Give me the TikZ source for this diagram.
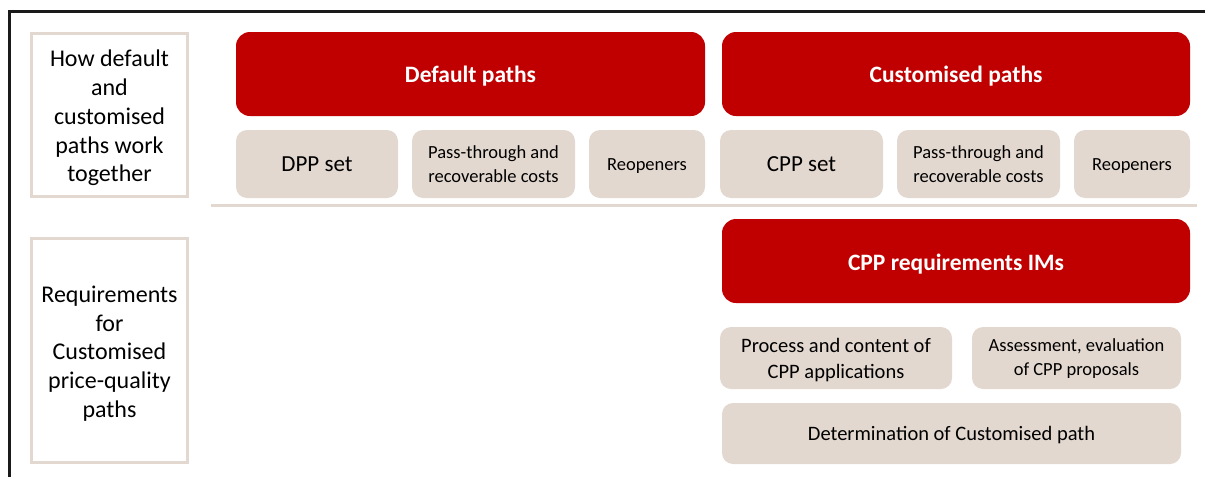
\documentclass[tikz,border=0pt]{standalone}
\usepackage{fontspec}
\setmainfont{Carlito}
\definecolor{dred}{HTML}{C00000}
\definecolor{beige}{HTML}{E3D8CF}
\definecolor{frm}{HTML}{1A1A1A}
\tikzset{
  redbox/.style={fill=dred, draw=none, rounded corners=14pt, inner sep=0pt},
  redtext/.style={text=white, font=\fontsize{23.5}{26}\selectfont\bfseries, inner sep=0pt},
  tanbox/.style={fill=beige, draw=none, rounded corners=11pt, inner sep=0pt},
  tantext/.style={text=black, align=center, inner sep=0pt},
  sidebox/.style={draw=beige, line width=3pt, fill=white, inner sep=0pt},
  sidetext/.style={align=center, inner sep=0pt, font=\fontsize{24}{28.8}\selectfont},
}
\newcommand{\bx}[8]{% name, box style, text style, x1, y1, x2, y2, text
  \node[#2, minimum width={#6-#4}, minimum height={#7-#5}] (#1) at ({(#4+#6)/2},{-(#5+#7)/2}) {};
  \node[#3] (#1t) at ([yshift=-2pt]#1.center) {#8};}
\begin{document}
\begin{tikzpicture}[x=1pt,y=1pt]
\useasboundingbox (0,0) rectangle (1205,-477);
\draw[frm, line width=3pt] (9.5,-477) -- (9.5,-11) -- (1205,-11);
% side boxes
\bx{s1}{sidebox}{sidetext, yshift=-1pt}{31.5}{33.5}{187.5}{196.5}{How default\\and\\customised\\paths work\\together}
\bx{s2}{sidebox}{sidetext, yshift=-1pt}{31.5}{238.5}{187.5}{462.5}{Requirements\\for\\Customised\\price-quality\\paths}
% separator
\draw[beige, line width=3pt] (211,-205) -- (1197,-205);
% red headers
\bx{dp}{redbox}{redtext}{236}{32}{705}{116}{Default paths}
\bx{cp}{redbox}{redtext}{722}{32}{1190}{116}{Customised paths}
\bx{cr}{redbox}{redtext, yshift=-1pt}{722}{219}{1190}{303}{CPP requirements IMs}
% tan row
\bx{dpp}{tanbox}{tantext, yshift=2pt, font=\fontsize{23}{27}\selectfont}{236}{130}{398}{198}{DPP set}
\bx{pt1}{tanbox}{tantext, yshift=1.5pt, font=\fontsize{18.5}{24}\selectfont}{412}{130}{575}{198}{Pass-through and\\recoverable costs}
\bx{ro1}{tanbox}{tantext, font=\fontsize{18.5}{22}\selectfont}{589}{130}{705}{198}{Reopeners}
\bx{cpp}{tanbox}{tantext, yshift=2pt, font=\fontsize{23}{27}\selectfont}{720}{130}{883}{198}{CPP set}
\bx{pt2}{tanbox}{tantext, yshift=1.5pt, font=\fontsize{18.5}{24}\selectfont}{897}{130}{1060}{198}{Pass-through and\\recoverable costs}
\bx{ro2}{tanbox}{tantext, font=\fontsize{18.5}{22}\selectfont}{1074}{130}{1190}{198}{Reopeners}
% requirements
\bx{pc}{tanbox}{tantext, font=\fontsize{20.5}{25.5}\selectfont}{720}{327}{952}{389}{Process and content of\\CPP applications}
\bx{ae}{tanbox}{tantext, yshift=1pt, font=\fontsize{18.5}{24}\selectfont}{972}{327}{1181}{389}{Assessment, evaluation\\of CPP proposals}
\bx{dt}{tanbox}{tantext, font=\fontsize{20.5}{24}\selectfont}{722}{403}{1181}{464}{Determination of Customised path}
\end{tikzpicture}
\end{document}
